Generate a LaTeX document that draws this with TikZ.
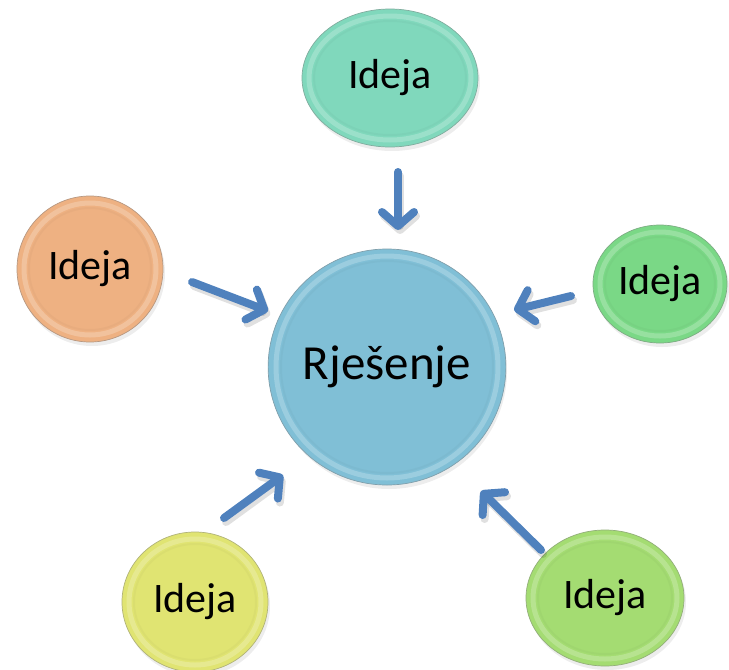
\documentclass[tikz,border=0pt]{standalone}
\usepackage{fontspec}
\setmainfont{Carlito}
\usetikzlibrary{arrows.meta,shapes.geometric}

\definecolor{arrowblue}{HTML}{4F81BD}
\definecolor{hubblue}{HTML}{80BFD6}
\definecolor{mint}{HTML}{80D8BC}
\definecolor{peach}{HTML}{EEB182}
\definecolor{leaf}{HTML}{7AD886}
\definecolor{lemon}{HTML}{E0E472}
\definecolor{lime}{HTML}{A4DC72}

% a glossy bubble: name, x, y, x radius, y radius, colour, font size, text
\newcommand\glossbubble[8]{%
  \fill[black, opacity=.07] (#2+2,#3+4) ellipse [x radius=#4, y radius=#5];
  \node[bubble, minimum width=2*#4, minimum height=2*#5, fill=#6,
        draw=#6!50!gray, font=\fontsize{#7}{#7}\selectfont] (#1) at (#2,#3) {#8};
  \draw[white, opacity=.22, line width=5] (#1.center)
        ellipse [x radius=#4-7, y radius=#5-7];
  \draw[#6!80!black, opacity=.12, line width=2] (#1.center)
        ellipse [x radius=#4-12, y radius=#5-12];
}

\begin{document}
\begin{tikzpicture}[x=1pt, y=-1pt,
  bubble/.style={ellipse, inner sep=0pt, line width=.7pt, text=black},
  flow/.style={line width=8pt, arrowblue, line cap=round,
               -{Straight Barb[length=14pt, width=32pt, round]}},
  flowshade/.style={line width=8pt, black, opacity=.12, line cap=round,
               -{Straight Barb[length=14pt, width=32pt, round]}}]
  \useasboundingbox (0,0) rectangle (729,670);

  % central solution bubble
  \glossbubble{hub}{387}{367}{118}{118}{hubblue}{49}{Rješenje}

  % surrounding idea bubbles
  \glossbubble{top}{390}{78}{88}{69}{mint}{42}{Ideja}
  \glossbubble{left}{90}{269}{73}{73}{peach}{42}{Ideja}
  \glossbubble{right}{660}{284}{67}{59}{leaf}{42}{Ideja}
  \glossbubble{botleft}{195}{602}{73}{70}{lemon}{42}{Ideja}
  \glossbubble{botright}{605}{598}{79}{68}{lime}{42}{Ideja}

  % arrow end points
  \coordinate (topS) at (398,172);    \coordinate (topE) at (398,230);
  \coordinate (leftS) at (192,282);   \coordinate (leftE) at (268,311);
  \coordinate (rightS) at (571,296);  \coordinate (rightE) at (514,310);
  \coordinate (blS) at (224,518);     \coordinate (blE) at (283,475);
  \coordinate (brS) at (541,550);     \coordinate (brE) at (481,491);

  % arrow shadows
  \foreach \s/\e in {topS/topE, leftS/leftE, rightS/rightE, blS/blE, brS/brE}
    \draw[flowshade, transform canvas={shift={(2pt,-4pt)}}] (\s) -- (\e);

  % arrows pointing to the solution
  \foreach \s/\e in {topS/topE, leftS/leftE, rightS/rightE, blS/blE, brS/brE}
    \draw[flow] (\s) -- (\e);
\end{tikzpicture}
\end{document}
